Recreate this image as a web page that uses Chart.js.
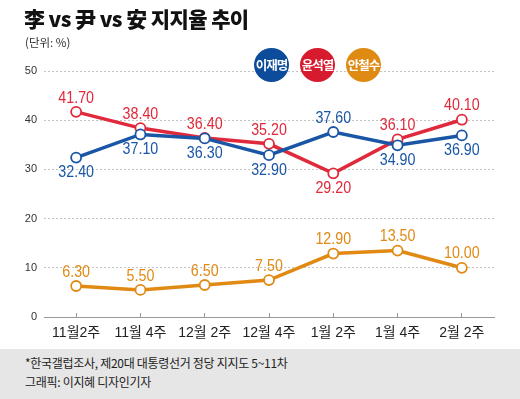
<!DOCTYPE html>
<html><head><meta charset="utf-8">
<script src="https://cdn.jsdelivr.net/npm/chart.js@4"></script>
<style>
html,body{margin:0;padding:0;background:#fff;}
body{width:520px;height:399px;position:relative;overflow:hidden;font-family:"Liberation Sans","Noto Sans CJK KR",sans-serif;}
#title{position:absolute;left:24px;top:3px;font-family:"Noto Sans CJK KR",sans-serif;font-weight:900;font-size:21px;color:#111;letter-spacing:-0.6px;white-space:nowrap;}
#unit{position:absolute;left:25px;top:34px;font-family:"Noto Sans CJK KR",sans-serif;font-size:11.5px;color:#333;}
#wrap{position:absolute;left:0;top:0;width:520px;height:349px;}
.lg{position:absolute;top:48px;width:35px;height:34px;border-radius:50%;color:#fff;font-family:"Noto Sans CJK KR",sans-serif;font-size:12.5px;font-weight:700;line-height:34px;text-align:center;letter-spacing:-1px;}
#footer{position:absolute;left:0;top:349px;width:520px;height:50px;background:#e6e6e6;font-family:"Noto Sans CJK KR",sans-serif;font-size:12px;color:#222;}
#footer div{position:absolute;left:25px;white-space:nowrap;letter-spacing:-0.3px;}
</style></head>
<body>
<div id="wrap"><canvas id="c" width="520" height="349"></canvas></div>
<div id="title">李 vs 尹 vs 安 지지율 추이</div>
<div id="unit">(단위: %)</div>
<div class="lg" style="left:254px;background:#0d4c9b;">이재명</div>
<div class="lg" style="left:300px;background:#d81a2f;">윤석열</div>
<div class="lg" style="left:346px;background:#df8a12;">안철수</div>
<div id="footer">
<div style="top:5px;">*한국갤럽조사, 제20대 대통령선거 정당 지지도 5~11차</div>
<div style="top:24px;">그래픽: 이지혜 디자인기자</div>
</div>
<script>
const categories = ["11월2주","11월 4주","12월 2주","12월 4주","1월 2주","1월 4주","2월 2주"];
const leeValues  = [32.4, 37.1, 36.3, 32.9, 37.6, 34.9, 36.9];
const yoonValues = [41.7, 38.4, 36.4, 35.2, 29.2, 36.1, 40.1];
const ahnValues  = [6.3, 5.5, 6.5, 7.5, 12.9, 13.5, 10.0];
const yTicks = [0, 10, 20, 30, 40, 50];
const seriesNames = ["이재명","윤석열","안철수"];
// label placement: 1 = above, -1 = below
const leeSide  = [-1,-1,-1,-1, 1,-1,-1];
const yoonSide = [ 1, 1, 1, 1,-1, 1, 1];
const ahnSide  = [ 1, 1, 1, 1, 1, 1, 1];

const BLUE="#1a56a6", RED="#e0293b", ORANGE="#e08a14";

function ds(label, data, color, side){
  return {label, data, borderColor:color, backgroundColor:"#fff",
    borderWidth:3.5, pointRadius:5, pointHoverRadius:5, pointBorderWidth:1.8,
    pointBackgroundColor:"#fff", pointBorderColor:color, tension:0, side, clip:false};
}

const labelPlugin = {
  id:"vlabels",
  afterDatasetsDraw(chart){
    const ctx = chart.ctx;
    chart.data.datasets.forEach((d,di)=>{
      const meta = chart.getDatasetMeta(di);
      meta.data.forEach((pt,i)=>{
        const s = d.side[i];
        const y = s>0 ? pt.y-14 : pt.y+15;
        ctx.save();
        ctx.translate(pt.x, y);
        ctx.scale(0.84, 1);
        ctx.font = '17px "Liberation Sans",sans-serif';
        ctx.textAlign = "center";
        ctx.textBaseline = "middle";
        ctx.fillStyle = d.borderColor;
        ctx.fillText(d.data[i].toFixed(2), 0, 0);
        ctx.restore();
      });
    });
  }
};

new Chart(document.getElementById("c"), {
  type:"line",
  data:{labels:categories, datasets:[
    ds(seriesNames[0], leeValues, BLUE, leeSide),
    ds(seriesNames[1], yoonValues, RED, yoonSide),
    ds(seriesNames[2], ahnValues, ORANGE, ahnSide)
  ]},
  options:{
    responsive:false, animation:false, devicePixelRatio:1,
    layout:{padding:{left:0,right:26,top:71,bottom:0}},
    plugins:{legend:{display:false}, tooltip:{enabled:false}},
    scales:{
      x:{
        offset:true,
        grid:{offset:false, drawOnChartArea:false, drawTicks:true, tickLength:-4, color:"#999", lineWidth:1},
        border:{display:true, color:"#999", width:1},
        ticks:{color:"#222", font:{size:14, family:'"Liberation Sans","Noto Sans CJK KR",sans-serif'}, padding:12, maxRotation:0, autoSkip:false},
        afterFit(s){ s.height = 32; }
      },
      y:{
        min:0, max:50,
        afterBuildTicks(s){ s.ticks = yTicks.map(v=>({value:v})); },
        grid:{color:"#c4c4c4", drawTicks:false, lineWidth:1},
        border:{display:false, dash:[2,2]},
        ticks:{color:"#333", font:{size:11, family:'"Liberation Sans",sans-serif'}, padding:7},
        afterFit(s){ s.width = 44; }
      }
    }
  },
  plugins:[labelPlugin]
});
</script>
</body></html>
